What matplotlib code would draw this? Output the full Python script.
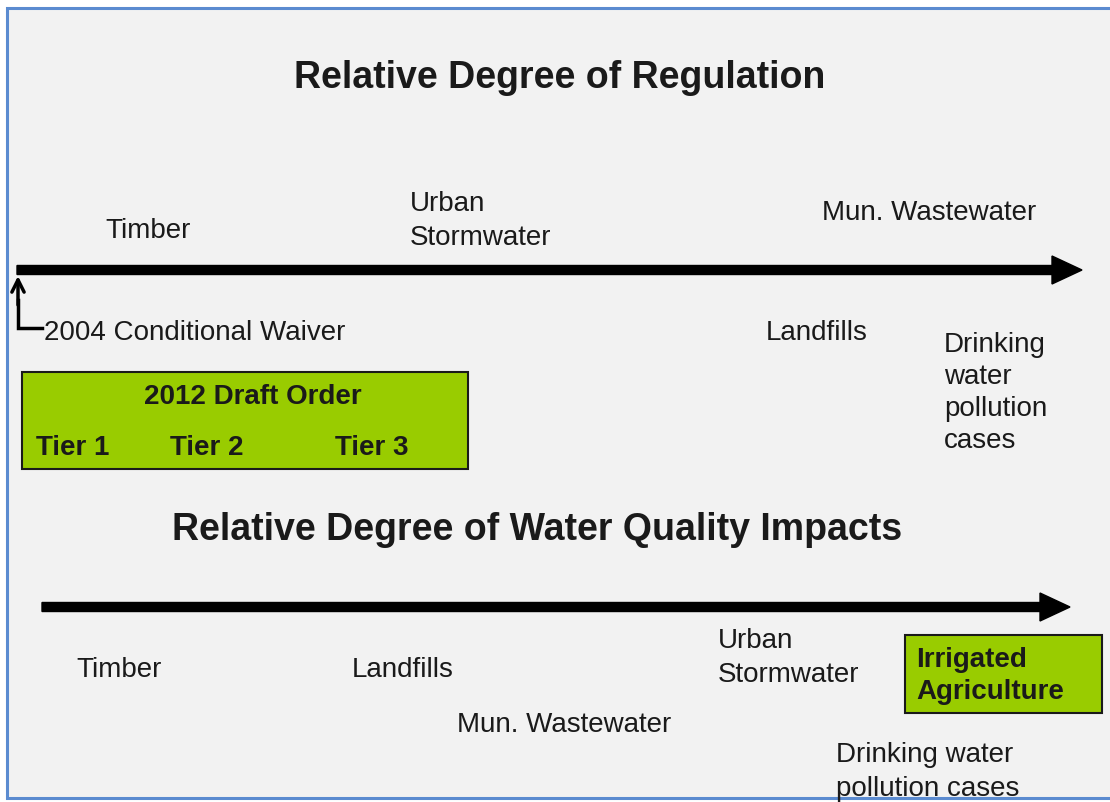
import matplotlib
matplotlib.use("Agg")
import matplotlib.pyplot as plt
from matplotlib.patches import Rectangle

plt.rcParams['font.family'] = ['Liberation Sans', 'DejaVu Sans']

# ---- content ----
title_top = "Relative Degree of Regulation"
title_bottom = "Relative Degree of Water Quality Impacts"

reg_labels = ["Timber", "Urban\nStormwater", "Mun. Wastewater",
              "2004 Conditional Waiver", "Landfills",
              "Drinking\nwater\npollution\ncases"]
reg_x = [105, 410, 822, 44, 766, 944]
reg_y = [231, 221, 213, 333, 333, 393]
reg_ls = [1.2, 1.43, 1.2, 1.2, 1.2, 1.3]

tier_labels = ["Tier 1", "Tier 2", "Tier 3"]
tier_x = [36, 170, 335]
draft_label = "2012 Draft Order"

wq_labels = ["Timber", "Landfills", "Mun. Wastewater", "Urban\nStormwater",
             "Drinking water\npollution cases"]
wq_x = [76, 352, 457, 718, 836]
wq_y = [670, 670, 725, 658, 772]
wq_ls = [1.2, 1.2, 1.2, 1.43, 1.4]
irrigated_label = "Irrigated\nAgriculture"

W, H = 1110, 802
fig = plt.figure(figsize=(W / 100, H / 100), dpi=100)
ax = fig.add_axes([0, 0, 1, 1])
ax.set_xlim(0, W)
ax.set_ylim(H, 0)
ax.axis('off')
fig.patch.set_facecolor('white')

txt = '#1a1a1a'
green = '#99CC00'

# frame
ax.add_patch(Rectangle((7, 8), 1130, 790, facecolor='#F2F2F2',
                       edgecolor='#5B8BD0', lw=2.2, zorder=0))

# titles
ax.text(560, 78, title_top, ha='center', va='center', fontsize=27,
        fontweight='bold', color=txt)
ax.text(537, 530, title_bottom, ha='center', va='center', fontsize=27,
        fontweight='bold', color=txt)

# main arrows
ax.arrow(17, 270, 1065, 0, width=9, head_width=28, head_length=30,
         length_includes_head=True, color='black', zorder=3)
ax.arrow(42, 607, 1028, 0, width=9, head_width=28, head_length=30,
         length_includes_head=True, color='black', zorder=3)

# small pointer arrow for 2004 waiver
ax.plot([18, 18, 42], [300, 328, 328], color='black', lw=2.5,
        solid_joinstyle='miter', zorder=3)
ax.annotate('', xy=(18, 276), xytext=(18, 305),
            arrowprops=dict(arrowstyle='->', lw=2.5, color='black',
                            mutation_scale=22, shrinkA=0, shrinkB=0), zorder=3)

# regulation labels
for lab, x, y, ls in zip(reg_labels, reg_x, reg_y, reg_ls):
    ax.text(x, y, lab, ha='left', va='center', fontsize=20, color=txt,
            linespacing=ls)

# draft order box
ax.add_patch(Rectangle((22, 372), 446, 97, facecolor=green,
                       edgecolor='#1a1a1a', lw=1.5, zorder=2))
ax.text(253, 397, draft_label, ha='center', va='center', fontsize=20,
        fontweight='bold', color=txt, zorder=4)
for lab, x in zip(tier_labels, tier_x):
    ax.text(x, 448, lab, ha='left', va='center', fontsize=20,
            fontweight='bold', color=txt, zorder=4)

# water quality labels
for lab, x, y, ls in zip(wq_labels, wq_x, wq_y, wq_ls):
    ax.text(x, y, lab, ha='left', va='center', fontsize=20, color=txt,
            linespacing=ls)

# irrigated agriculture box
ax.add_patch(Rectangle((905, 635), 197, 78, facecolor=green,
                       edgecolor='#1a1a1a', lw=1.5, zorder=2))
ax.text(916, 676, irrigated_label, ha='left', va='center', fontsize=20,
        fontweight='bold', color=txt, linespacing=1.3, zorder=4)

fig.savefig('out.png', dpi=100, facecolor='white')
